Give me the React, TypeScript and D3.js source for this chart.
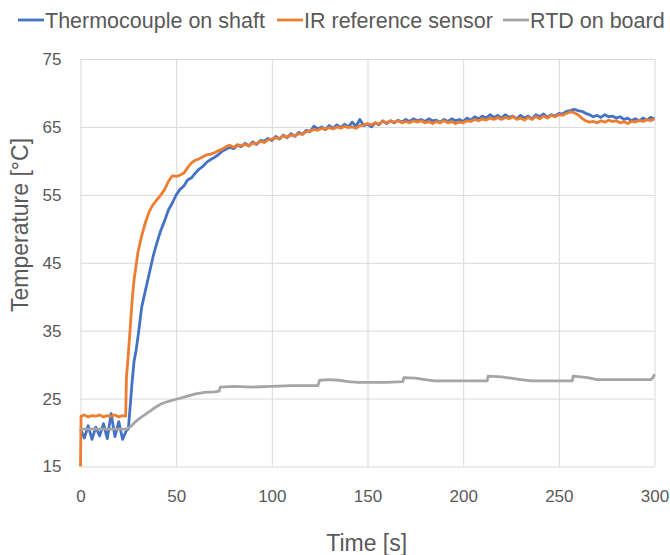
import React, { useRef, useEffect } from "react";
import * as d3 from "d3";

// [time s, temperature °C]
const thermocouple: [number, number][] = [
  [0, 20.5], [2, 19.2], [4, 21.0], [6, 19.0], [8, 20.8], [10, 19.5], [12, 21.3], [14, 19.1],
  [16, 22.8], [18, 19.4], [20, 21.6], [22, 19.0], [24, 20.3], [25, 20.5], [26, 24.0], [27, 27.5],
  [28, 30.5], [29, 32.0], [30, 34.0], [32, 38.5], [34, 41.0], [36, 43.5], [38, 46.0], [40, 48.0],
  [42, 49.8], [44, 51.2], [46, 52.8], [48, 53.8], [50, 55.0], [52, 55.8], [54, 56.3], [56, 57.2],
  [58, 57.5], [60, 58.2], [62, 58.8], [64, 59.2], [66, 59.8], [68, 60.2], [70, 60.5], [72, 60.9],
  [74, 61.4], [76, 61.7], [78, 62.0], [80, 61.8], [82, 62.3], [84, 62.1], [86, 62.6], [88, 62.2],
  [90, 62.8], [92, 62.4], [94, 63.0], [96, 62.9], [98, 63.3], [100, 63.0], [102, 63.6], [104, 63.2],
  [106, 63.8], [108, 63.4], [110, 64.0], [112, 63.6], [114, 64.2], [116, 63.9], [118, 64.5], [120, 64.3],
  [122, 65.1], [124, 64.7], [126, 65.0], [128, 64.6], [130, 65.2], [132, 64.8], [134, 65.3], [136, 64.9],
  [138, 65.4], [140, 65.0], [142, 65.7], [144, 65.1], [146, 66.1], [148, 65.2], [150, 65.4], [152, 65.0],
  [154, 65.6], [156, 65.3], [158, 65.9], [160, 65.5], [162, 65.9], [164, 65.6], [166, 66.0], [168, 65.7],
  [170, 66.1], [172, 65.8], [174, 66.2], [176, 65.9], [178, 66.1], [180, 65.8], [182, 66.2], [184, 65.9],
  [186, 66.0], [188, 65.7], [190, 66.1], [192, 65.8], [194, 66.2], [196, 65.9], [198, 66.1], [200, 65.8],
  [202, 66.3], [204, 66.0], [206, 66.5], [208, 66.2], [210, 66.6], [212, 66.3], [214, 66.8], [216, 66.4],
  [218, 66.7], [220, 66.3], [222, 66.8], [224, 66.4], [226, 66.6], [228, 66.2], [230, 66.7], [232, 66.3],
  [234, 66.6], [236, 66.2], [238, 66.8], [240, 66.5], [242, 66.9], [244, 66.4], [246, 66.8], [248, 66.6],
  [250, 67.0], [252, 66.9], [254, 67.3], [256, 67.4], [258, 67.6], [260, 67.4], [262, 67.3], [264, 67.0],
  [266, 66.8], [268, 66.5], [270, 66.7], [272, 66.4], [274, 66.8], [276, 66.5], [278, 66.6], [280, 66.3],
  [282, 66.5], [284, 66.1], [286, 66.3], [288, 65.9], [290, 66.2], [292, 65.9], [294, 66.3], [296, 66.0],
  [298, 66.4], [300, 66.2],
];

const irSensor: [number, number][] = [
  [0, 15.0], [0.3, 22.4], [2, 22.6], [4, 22.3], [6, 22.5], [8, 22.4], [10, 22.6], [12, 22.3],
  [14, 22.5], [16, 22.4], [18, 22.6], [20, 22.3], [22, 22.5], [23.6, 22.4], [24, 28.0], [25, 31.5],
  [26, 35.5], [27, 39.5], [28, 42.5], [30, 46.5], [32, 49.0], [34, 51.0], [36, 52.6], [38, 53.6],
  [40, 54.3], [42, 55.0], [44, 55.8], [46, 57.0], [48, 57.8], [50, 57.7], [52, 57.9], [54, 58.2],
  [56, 59.0], [58, 59.7], [60, 60.1], [62, 60.3], [64, 60.6], [66, 60.9], [68, 61.0], [70, 61.2],
  [72, 61.5], [74, 61.7], [76, 62.1], [78, 62.3], [80, 62.0], [82, 62.4], [84, 62.2], [86, 62.5],
  [88, 62.2], [90, 62.6], [92, 62.5], [94, 62.9], [96, 62.7], [98, 63.1], [100, 63.2], [102, 63.4],
  [104, 63.3], [106, 63.7], [108, 63.5], [110, 63.8], [112, 63.7], [114, 64.0], [116, 63.9], [118, 64.3],
  [120, 64.4], [122, 64.6], [124, 64.5], [126, 64.8], [128, 64.6], [130, 64.9], [132, 64.7], [134, 65.0],
  [136, 64.8], [138, 65.1], [140, 64.9], [142, 65.0], [144, 64.8], [146, 65.2], [148, 65.3], [150, 65.5],
  [152, 65.3], [154, 65.6], [156, 65.4], [158, 65.8], [160, 65.6], [162, 65.9], [164, 65.7], [166, 65.9],
  [168, 65.6], [170, 65.8], [172, 65.6], [174, 65.9], [176, 65.7], [178, 65.9], [180, 65.6], [182, 65.8],
  [184, 65.5], [186, 65.8], [188, 65.6], [190, 65.9], [192, 65.6], [194, 65.8], [196, 65.5], [198, 65.7],
  [200, 65.6], [202, 65.9], [204, 65.8], [206, 66.1], [208, 65.9], [210, 66.2], [212, 66.0], [214, 66.3],
  [216, 66.1], [218, 66.4], [220, 66.1], [222, 66.4], [224, 66.2], [226, 66.5], [228, 66.1], [230, 66.3],
  [232, 66.0], [234, 66.4], [236, 66.1], [238, 66.5], [240, 66.2], [242, 66.6], [244, 66.3], [246, 66.7],
  [248, 66.5], [250, 66.8], [252, 66.7], [254, 67.0], [256, 67.2], [258, 67.1], [260, 66.8], [262, 66.3],
  [264, 65.9], [266, 65.7], [268, 65.8], [270, 65.6], [272, 65.9], [274, 65.7], [276, 66.0], [278, 65.8],
  [280, 65.9], [282, 65.6], [284, 65.8], [286, 65.5], [288, 65.8], [290, 65.7], [292, 66.0], [294, 65.8],
  [296, 66.1], [298, 65.9], [300, 66.2],
];

const rtdBoard: [number, number][] = [
  [0, 20.5], [24, 20.5], [26, 20.8], [28, 21.4], [30, 21.9], [32, 22.3], [35, 22.9], [38, 23.5],
  [42, 24.2], [46, 24.6], [50, 24.9], [55, 25.3], [60, 25.7], [65, 25.9], [70, 26.0], [72.5, 26.1],
  [73, 26.7], [80, 26.8], [90, 26.7], [100, 26.8], [110, 26.9], [124, 26.9], [125, 27.7], [130, 27.8],
  [135, 27.7], [140, 27.5], [145, 27.4], [160, 27.4], [168.5, 27.5], [169, 28.1], [175, 28.0], [180, 27.8],
  [185, 27.6], [212.5, 27.6], [213, 28.3], [220, 28.2], [225, 28.0], [230, 27.8], [236, 27.6], [257, 27.6],
  [257.5, 28.3], [265, 28.1], [270, 27.8], [298, 27.8], [299, 28.0], [300, 28.6],
];

const seriesNames = ["Thermocouple on shaft", "IR reference sensor", "RTD on board"];
const seriesColors = ["#4472C4", "#ED7D31", "#A5A5A5"];
const xTicks = [0, 50, 100, 150, 200, 250, 300];
const yTicks = [15, 25, 35, 45, 55, 65, 75];

const App = () => {
  const canvas = useRef<SVGSVGElement>(null);

  const width = 670;
  const height = 555;
  const font = "'Liberation Sans', Arial, sans-serif";
  const textColor = "#595959";
  const gridColor = "#d9d9d9";

  const xScale = d3.scaleLinear().domain([0, 300]).range([80.5, 654.5]);
  const yScale = d3.scaleLinear().domain([15, 75]).range([466.5, 59]);

  const drawChart = () => {
    const svg = d3.select(canvas.current);
    svg.selectAll("*").remove();

    // gridlines + tick labels through d3 axes
    const yAxis = svg.append("g")
      .attr("transform", `translate(${xScale(0)},0)`)
      .call(d3.axisLeft(yScale).tickValues(yTicks)
        .tickSize(-(xScale(300) - xScale(0))).tickPadding(19));
    yAxis.select(".domain").remove();
    yAxis.selectAll("line").attr("stroke", gridColor);
    yAxis.selectAll("text").attr("fill", textColor)
      .style("font-family", font).style("font-size", "17px");

    const xAxis = svg.append("g")
      .attr("transform", `translate(0,${yScale(15)})`)
      .call(d3.axisBottom(xScale).tickValues(xTicks)
        .tickSize(-(yScale(15) - yScale(75))).tickPadding(23));
    xAxis.select(".domain").remove();
    xAxis.selectAll("line").attr("stroke", gridColor);
    xAxis.selectAll("text").attr("fill", textColor)
      .style("font-family", font).style("font-size", "17px");

    const line = d3.line<[number, number]>()
      .x(d => xScale(d[0]))
      .y(d => yScale(d[1]));

    [thermocouple, irSensor, rtdBoard].forEach((s, i) => {
      svg.append("path")
        .datum(s)
        .attr("d", line)
        .attr("fill", "none")
        .attr("stroke", seriesColors[i])
        .attr("stroke-width", 2.8)
        .attr("stroke-linejoin", "round");
    });

    // legend
    const legendX = [18, 277, 503];
    const legend = svg.append("g");
    seriesNames.forEach((name, i) => {
      legend.append("line")
        .attr("x1", legendX[i]).attr("x2", legendX[i] + 26)
        .attr("y1", 20).attr("y2", 20)
        .attr("stroke", seriesColors[i]).attr("stroke-width", 2.8);
      legend.append("text")
        .attr("x", legendX[i] + 27).attr("y", 27.5)
        .attr("fill", textColor)
        .style("font-family", font).style("font-size", "21.5px")
        .text(name);
    });

    svg.append("text")
      .attr("x", 366.7).attr("y", 551)
      .attr("text-anchor", "middle")
      .attr("fill", textColor)
      .style("font-family", font).style("font-size", "23px")
      .text("Time [s]");

    svg.append("text")
      .attr("transform", "translate(28,225) rotate(-90)")
      .attr("text-anchor", "middle")
      .attr("fill", textColor)
      .style("font-family", font).style("font-size", "23px")
      .text("Temperature [°C]");
  };

  useEffect(() => {
    drawChart();
  });

  return (
    <svg ref={canvas} width={width} height={height}
      style={{ position: "absolute", left: 0, top: 0, background: "#fff" }} />
  );
};

export default App;
